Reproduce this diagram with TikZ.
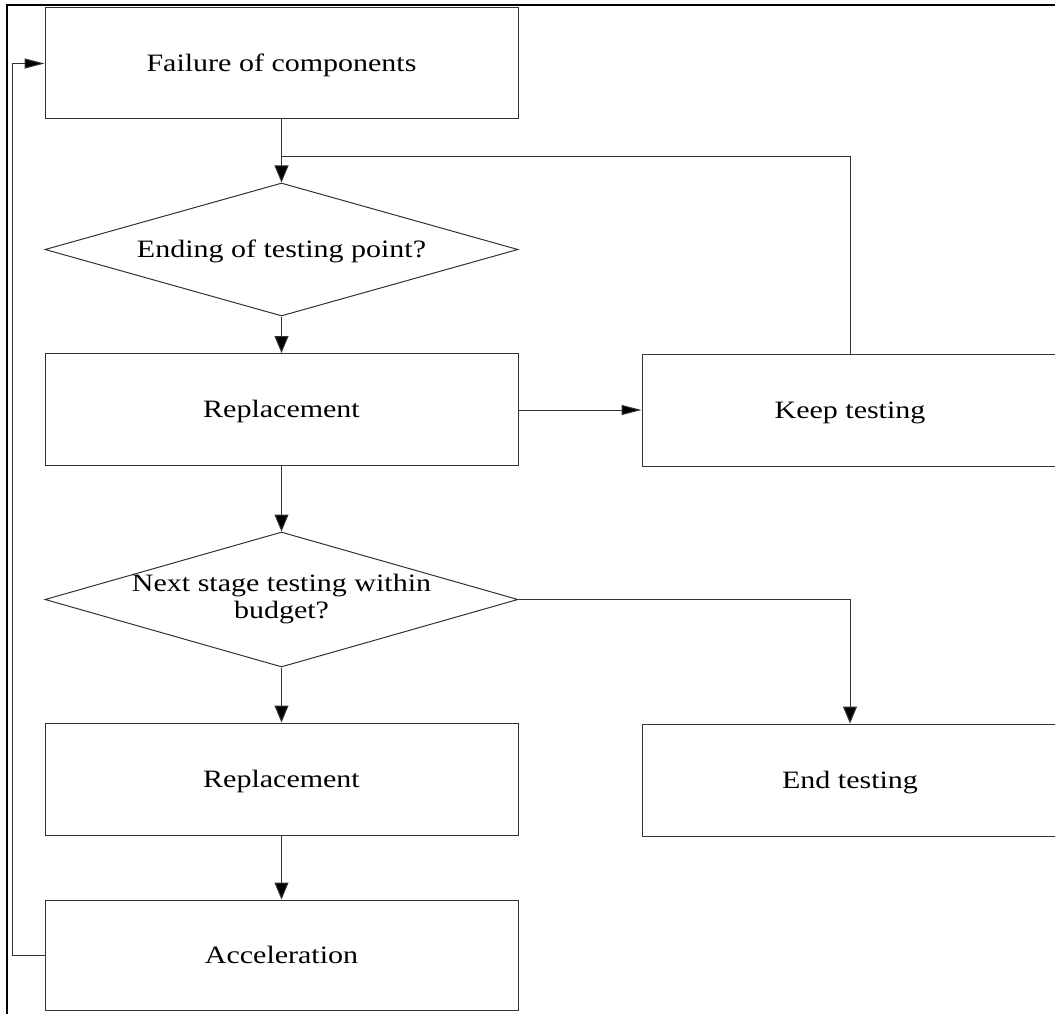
\documentclass[tikz,border=0pt]{standalone}
\usepackage{fontspec}
\setmainfont{Liberation Serif}[FakeStretch=1.2]
\usetikzlibrary{shapes.geometric,arrows.meta}
\begin{document}
\begin{tikzpicture}[x=1pt,y=-1pt,
  every node/.style={font=\fontsize{25}{27}\selectfont},
  boxnode/.style={draw=black!80,line width=1pt,rectangle,inner sep=0pt,align=center,text height=16pt,text depth=0pt},
  decnode/.style={draw=black!80,line width=1pt,diamond,inner sep=0pt,shape aspect=3.5,align=center},
  conn/.style={draw=black!80,line width=1pt},
  varrow/.style={conn,-{Triangle[length=17pt,width=14pt,fill=black]}},
  harrow/.style={conn,-{Triangle[length=20pt,width=10pt,fill=black]}},
  frameline/.style={draw=black,line width=2.5pt}]
\useasboundingbox (0,0) rectangle (1055,1014);
\draw[frameline] (7,1016) -- (7,5) -- (1057,5);

\node[boxnode,minimum width=473pt,minimum height=111pt] (fail) at (281.5,63.5) {Failure of components};
\node[decnode,minimum width=473pt,minimum height=133pt,text height=16pt,text depth=0pt] (d1) at (281.5,249.5) {\makebox[0pt][c]{Ending of testing point?}};
\node[boxnode,minimum width=473pt,minimum height=112pt] (rep1) at (281.5,409.5) {Replacement};
\node[boxnode,minimum width=416pt,minimum height=112pt] (keep) at (850,410) {Keep testing};
\node[decnode,minimum width=473pt,minimum height=135pt] (d2) at (281.5,599.5) {\makebox[0pt][c]{\raisebox{-4pt}{\begin{tabular}{@{}c@{}}Next stage testing within\\budget?\end{tabular}}}};
\node[boxnode,minimum width=473pt,minimum height=112pt] (rep2) at (281.5,779) {Replacement};
\node[boxnode,minimum width=416pt,minimum height=112pt] (endt) at (850,780) {End testing};
\node[boxnode,minimum width=473pt,minimum height=110pt] (acc) at (281.5,955) {Acceleration};

\coordinate (merge) at (281.5,157);
\draw[varrow] (fail.south) -- (d1.north);
\draw[conn] (keep.north) |- (merge);
\draw[varrow] (d1.south) -- (rep1.north);
\draw[harrow] (rep1.east |- keep.west) -- (keep.west);
\draw[varrow] (rep1.south) -- (d2.north);
\draw[varrow] (d2.east) -| (endt.north);
\draw[varrow] (d2.south) -- (rep2.north);
\draw[varrow] (rep2.south) -- (acc.north);
\coordinate (back) at (12,955);
\draw[harrow] (acc.west) -- (back) |- (fail.west);
\end{tikzpicture}
\end{document}
